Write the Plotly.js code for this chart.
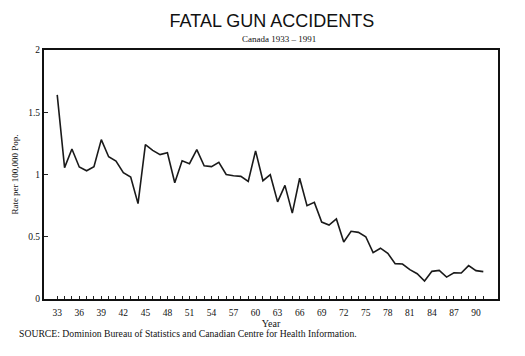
<!DOCTYPE html>
<html>
<head>
<meta charset="utf-8">
<script src="https://cdn.plot.ly/plotly-3.0.1.min.js"></script>
<style>html,body{margin:0;padding:0;background:#fff;}#chart{width:525px;height:356px;}</style>
</head>
<body>
<div id="chart"></div>
<script>
const years = [1933,1934,1935,1936,1937,1938,1939,1940,1941,1942,1943,1944,1945,1946,1947,1948,1949,1950,1951,1952,1953,1954,1955,1956,1957,1958,1959,1960,1961,1962,1963,1964,1965,1966,1967,1968,1969,1970,1971,1972,1973,1974,1975,1976,1977,1978,1979,1980,1981,1982,1983,1984,1985,1986,1987,1988,1989,1990,1991];
const rates = [1.64,1.055,1.205,1.06,1.03,1.063,1.28,1.143,1.108,1.015,0.98,0.766,1.24,1.194,1.16,1.175,0.934,1.11,1.087,1.2,1.07,1.063,1.098,1.0,0.99,0.985,0.945,1.19,0.95,0.998,0.78,0.913,0.69,0.97,0.75,0.776,0.618,0.594,0.643,0.458,0.544,0.535,0.5,0.372,0.408,0.367,0.284,0.281,0.236,0.203,0.145,0.222,0.23,0.176,0.211,0.209,0.268,0.228,0.22];
const xTickVals = years;
const xTickText = years.map(y => ((y - 1933) % 3 === 0) ? String(y % 100) : '');
const yTickVals = [0, 0.5, 1, 1.5, 2];
const yTickText = ['0', '0.5', '1', '1.5', '2'];

const serif = 'Liberation Serif, Times New Roman, serif';
const sans = 'Liberation Sans, Arial, sans-serif';

const data = [{
  x: years, y: rates, type: 'scatter', mode: 'lines',
  line: {color: '#1a1a1a', width: 1.6}, hoverinfo: 'skip'
}];

const layout = {
  width: 525, height: 356,
  margin: {l: 44, r: 27, t: 50, b: 57},
  paper_bgcolor: '#fff', plot_bgcolor: '#fff',
  showlegend: false,
  title: {text: 'FATAL GUN ACCIDENTS', font: {family: sans, size: 18, color: '#111'}, x: 0.518, xanchor: 'center', y: 0.942, yanchor: 'middle'},
  xaxis: {
    range: [1931.2, 1993.0], tickmode: 'array', tickvals: xTickVals, ticktext: xTickText,
    ticks: 'inside', ticklen: 3, tickwidth: 1, tickcolor: '#222',
    showgrid: false, zeroline: false, showline: true, linecolor: '#111', linewidth: 2, mirror: true,
    tickfont: {family: serif, size: 9.5, color: '#111'}, ticklabelstandoff: 4,
    title: {text: 'Year', font: {family: serif, size: 10, color: '#111'}, standoff: 2}
  },
  yaxis: {
    range: [0, 2], tickmode: 'array', tickvals: yTickVals, ticktext: yTickText,
    ticks: 'inside', ticklen: 4, tickwidth: 1, tickcolor: '#222',
    showgrid: false, zeroline: false, showline: true, linecolor: '#111', linewidth: 2, mirror: true,
    tickfont: {family: serif, size: 9.5, color: '#111'},
    title: {text: 'Rate per 100,000 Pop.', font: {family: serif, size: 9, color: '#111'}, standoff: 8}
  },
  annotations: [
    {text: 'Canada 1933 \u2013 1991', xref: 'paper', yref: 'paper', x: 0.518, y: 1.0, yshift: 4, xanchor: 'center', yanchor: 'bottom', showarrow: false, font: {family: serif, size: 9, color: '#111'}},
    {text: 'SOURCE: Dominion Bureau of Statistics and Canadian Centre for Health Information.', xref: 'paper', yref: 'paper', x: 0, xshift: -27, y: 0, yshift: -27, xanchor: 'left', yanchor: 'top', showarrow: false, font: {family: serif, size: 9.7, color: '#111'}}
  ]
};

Plotly.newPlot('chart', data, layout, {displayModeBar: false, staticPlot: true});
</script>
</body>
</html>
